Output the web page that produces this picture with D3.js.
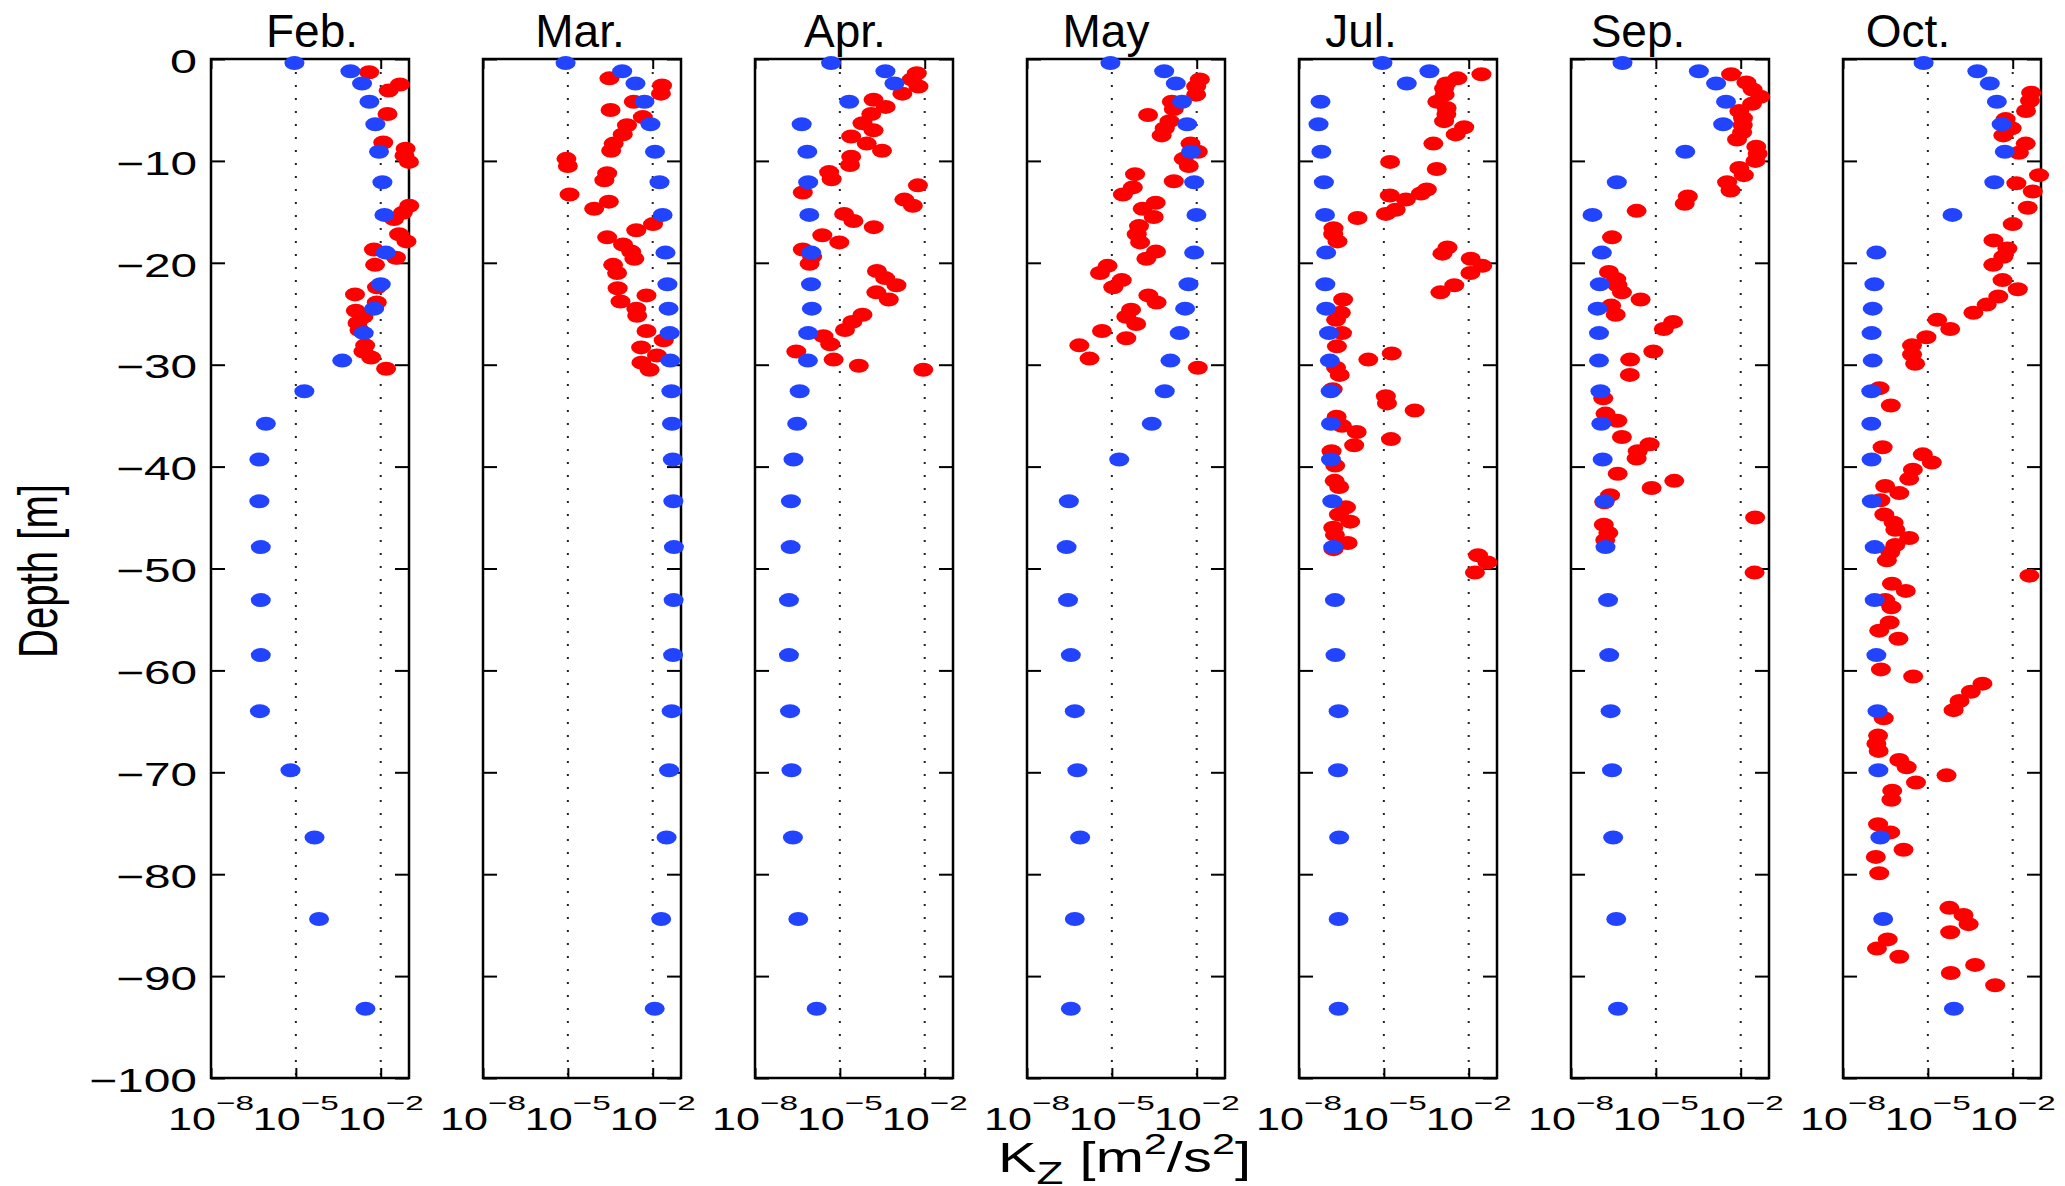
<!DOCTYPE html>
<html>
<head>
<meta charset="utf-8">
<script src="https://cdn.jsdelivr.net/npm/d3@7/dist/d3.min.js"></script>
<style>
  body { margin: 0; background: #fff; }
  text { font-family: "Liberation Sans", Arial, Helvetica, sans-serif; fill: #000; }
</style>
</head>
<body>
<div id="chart-area"></div>
<script>
// panel titles
var months = ["Feb.", "Mar.", "Apr.", "May", "Jul.", "Sep.", "Oct."];

// model depth levels [m], the same for every month
var modelDepth = [-0.4, -1.2, -2.4, -4.2, -6.4, -9.1, -12.1, -15.3, -19.0, -22.1, -24.5, -26.9,
  -29.6, -32.6, -35.8, -39.3, -43.4, -47.9, -53.1, -58.5, -64.0, -69.8, -76.4, -84.4, -93.2];

// model log10(Kz) at those levels (blue)
var modelFeb = [-5.05, -3.07, -2.66, -2.40, -2.19, -2.06, -1.94, -1.87, -1.82, -2.00, -2.23, -2.60,
  -3.36, -4.70, -6.06, -6.29, -6.29, -6.24, -6.24, -6.24, -6.27, -5.19, -4.34, -4.18, -2.54];
var modelMar = [-5.08, -3.08, -2.61, -2.29, -2.08, -1.92, -1.76, -1.65, -1.55, -1.48, -1.44, -1.40,
  -1.38, -1.34, -1.32, -1.29, -1.27, -1.25, -1.26, -1.28, -1.33, -1.42, -1.51, -1.70, -1.93];
var modelApr = [-5.31, -3.39, -3.07, -4.67, -6.35, -6.15, -6.12, -6.08, -6.01, -6.02, -5.99, -6.12,
  -6.13, -6.42, -6.51, -6.64, -6.73, -6.74, -6.80, -6.80, -6.76, -6.71, -6.66, -6.47, -5.82];
var modelMay = [-5.05, -3.15, -2.74, -2.52, -2.34, -2.20, -2.09, -2.01, -2.09, -2.29, -2.41, -2.60,
  -2.93, -3.13, -3.59, -4.74, -6.52, -6.60, -6.55, -6.45, -6.31, -6.22, -6.12, -6.31, -6.45];
var modelJul = [-5.05, -3.39, -4.19, -7.24, -7.31, -7.21, -7.12, -7.08, -7.04, -7.07, -7.04, -6.94,
  -6.91, -6.88, -6.87, -6.87, -6.82, -6.79, -6.73, -6.71, -6.60, -6.62, -6.58, -6.60, -6.60];
var modelSep = [-6.18, -3.48, -2.87, -2.52, -2.62, -3.96, -6.38, -7.24, -6.91, -6.98, -7.06, -7.01,
  -7.01, -6.96, -6.93, -6.88, -6.81, -6.78, -6.69, -6.65, -6.60, -6.55, -6.51, -6.40, -6.34];
var modelOct = [-5.15, -3.25, -2.81, -2.56, -2.39, -2.28, -2.65, -4.13, -6.82, -6.89, -6.95, -6.99,
  -6.95, -7.00, -7.00, -6.99, -6.98, -6.88, -6.88, -6.82, -6.78, -6.75, -6.68, -6.58, -4.08];

// observed [depth, log10(Kz)] (red)
var obsFeb = [[-1.3, -2.41], [-2.5, -1.32], [-3.1, -1.72], [-5.4, -1.76], [-8.2, -1.91], [-8.8, -1.12],
  [-9.5, -1.16], [-10.1, -1.00], [-14.4, -0.99], [-15.1, -1.22], [-15.7, -1.53], [-17.2, -1.35],
  [-17.9, -1.09], [-18.7, -2.24], [-19.5, -1.46], [-20.2, -2.20], [-22.4, -2.13], [-23.1, -2.91],
  [-23.9, -2.14], [-24.7, -2.88], [-25.3, -2.61], [-25.9, -2.82], [-26.6, -2.75], [-28.1, -2.55],
  [-28.7, -2.61], [-29.3, -2.34], [-30.4, -1.81]];
var obsMar = [[-1.9, -3.53], [-2.6, -1.67], [-3.4, -1.71], [-4.2, -2.67], [-5.0, -3.49], [-5.7, -2.35],
  [-6.5, -2.91], [-7.4, -3.06], [-8.3, -3.38], [-9.0, -3.47], [-9.8, -5.05], [-10.5, -5.00],
  [-11.2, -3.61], [-11.9, -3.71], [-13.3, -4.94], [-14.0, -3.55], [-14.7, -4.07], [-16.2, -1.99],
  [-16.8, -2.58], [-17.5, -3.61], [-18.2, -3.05], [-18.9, -2.76], [-19.6, -2.65], [-20.2, -3.40],
  [-21.0, -3.26], [-22.5, -3.24], [-23.2, -2.22], [-23.8, -3.14], [-24.5, -2.58], [-25.2, -2.55],
  [-26.7, -2.22], [-27.6, -1.61], [-28.3, -2.41], [-29.1, -1.85], [-29.8, -2.40], [-30.5, -2.11]];
var obsApr = [[-1.4, -2.28], [-2.0, -2.46], [-2.7, -2.22], [-3.4, -2.79], [-4.0, -3.81], [-4.7, -3.38],
  [-5.4, -3.89], [-6.3, -4.20], [-7.0, -3.81], [-7.6, -4.60], [-8.3, -4.05], [-9.0, -3.51],
  [-9.6, -4.60], [-10.4, -4.64], [-11.1, -5.38], [-11.8, -5.29], [-12.4, -2.24], [-13.1, -6.31],
  [-13.8, -2.72], [-14.4, -2.42], [-15.2, -4.85], [-15.9, -4.52], [-16.5, -3.80], [-17.3, -5.62],
  [-18.0, -5.02], [-18.7, -6.31], [-19.4, -5.98], [-20.1, -6.07], [-20.8, -3.69], [-21.5, -3.40],
  [-22.2, -3.00], [-22.9, -3.71], [-23.6, -3.27], [-25.1, -4.20], [-25.8, -4.56], [-26.6, -4.82],
  [-27.2, -5.58], [-28.0, -5.34], [-28.7, -6.54], [-29.5, -5.22], [-30.1, -4.33], [-30.5, -2.05]];
var obsMay = [[-2.0, -1.89], [-2.7, -2.02], [-3.5, -2.02], [-4.2, -2.88], [-4.9, -2.81], [-5.5, -3.72],
  [-6.1, -2.96], [-6.8, -3.13], [-7.5, -3.24], [-8.3, -2.22], [-9.1, -1.96], [-9.8, -2.46],
  [-10.5, -2.28], [-11.3, -4.18], [-12.0, -2.81], [-12.6, -4.26], [-13.3, -4.61], [-14.1, -3.45],
  [-14.7, -3.91], [-15.5, -3.52], [-16.4, -4.04], [-17.2, -4.12], [-18.0, -4.00], [-18.9, -3.44],
  [-19.6, -3.78], [-20.3, -5.15], [-21.0, -5.42], [-21.7, -4.65], [-22.4, -4.95], [-23.2, -3.71],
  [-23.9, -3.42], [-24.6, -4.32], [-25.3, -4.49], [-26.0, -4.14], [-26.7, -5.35], [-27.4, -4.49],
  [-28.1, -6.15], [-29.4, -5.79], [-30.3, -1.96]];
var obsJul = [[-1.5, -1.55], [-1.9, -2.40], [-2.4, -2.79], [-2.9, -2.87], [-3.5, -2.85], [-4.2, -3.11],
  [-4.8, -2.78], [-5.4, -2.79], [-6.1, -2.87], [-6.7, -2.16], [-7.4, -2.46], [-8.3, -3.25],
  [-10.1, -4.78], [-10.8, -3.13], [-12.8, -3.48], [-13.2, -3.69], [-13.4, -4.79], [-13.8, -4.22],
  [-14.8, -4.58], [-15.2, -4.93], [-15.6, -5.93], [-16.6, -6.78], [-17.2, -6.79], [-17.9, -6.64],
  [-18.5, -2.75], [-19.1, -2.93], [-19.6, -1.93], [-20.3, -1.52], [-21.0, -1.94], [-22.2, -2.51],
  [-22.9, -3.00], [-23.6, -6.44], [-24.9, -6.52], [-25.6, -6.69], [-26.9, -6.48], [-28.2, -6.66],
  [-28.9, -4.72], [-29.5, -5.55], [-30.3, -6.69], [-31.0, -6.56], [-32.4, -6.81], [-33.1, -4.93],
  [-33.8, -4.89], [-34.5, -3.91], [-35.1, -6.67], [-36.0, -6.48], [-36.6, -5.96], [-37.3, -4.75],
  [-37.9, -6.05], [-38.5, -6.85], [-39.9, -6.72], [-41.4, -6.74], [-42.0, -6.58], [-44.0, -6.34],
  [-44.7, -6.59], [-45.4, -6.19], [-46.0, -6.79], [-46.7, -6.73], [-47.5, -6.28], [-48.1, -6.78],
  [-48.7, -1.67], [-49.4, -1.34], [-50.4, -1.78]];
var obsSep = [[-1.5, -2.34], [-2.3, -1.80], [-3.0, -1.58], [-3.7, -1.31], [-4.4, -1.60], [-5.1, -2.05],
  [-5.8, -1.92], [-6.5, -1.93], [-7.2, -1.95], [-7.9, -2.13], [-8.6, -1.45], [-9.3, -1.40],
  [-10.0, -1.48], [-10.7, -2.05], [-11.4, -1.89], [-12.1, -2.48], [-12.9, -2.36], [-13.5, -3.87],
  [-14.2, -3.98], [-14.9, -5.68], [-17.5, -6.55], [-20.9, -6.66], [-21.6, -6.40], [-22.2, -6.36],
  [-22.9, -6.20], [-23.6, -5.54], [-24.2, -6.58], [-25.1, -6.42], [-25.8, -4.39], [-26.5, -4.72],
  [-28.7, -5.09], [-29.5, -5.91], [-31.0, -5.92], [-33.3, -6.86], [-34.8, -6.78], [-35.5, -6.36],
  [-37.1, -6.20], [-37.8, -5.22], [-38.5, -5.64], [-39.2, -5.68], [-40.7, -6.35], [-41.4, -4.35],
  [-42.1, -5.15], [-42.8, -6.62], [-43.5, -6.82], [-45.0, -1.49], [-45.7, -6.84], [-46.5, -6.68],
  [-47.2, -6.79], [-50.4, -1.51]];
var obsOct = [[-3.3, -1.35], [-4.1, -1.39], [-5.1, -1.53], [-5.9, -2.25], [-6.8, -2.04], [-7.5, -2.33],
  [-8.3, -1.54], [-9.2, -1.78], [-11.4, -1.07], [-12.2, -1.87], [-13.0, -1.29], [-14.6, -1.47],
  [-16.2, -2.00], [-17.8, -2.68], [-18.6, -2.19], [-19.4, -2.33], [-20.2, -2.69], [-21.7, -2.36],
  [-22.6, -1.82], [-23.3, -2.51], [-24.1, -2.92], [-24.9, -3.39], [-25.6, -4.67], [-26.5, -4.21],
  [-27.3, -5.05], [-28.1, -5.56], [-29.0, -5.56], [-29.9, -5.45], [-32.3, -6.71], [-34.0, -6.31],
  [-38.1, -6.60], [-38.8, -5.18], [-39.6, -4.86], [-40.3, -5.53], [-41.2, -5.66], [-41.9, -6.51],
  [-42.6, -6.01], [-43.3, -6.68], [-44.7, -6.54], [-45.5, -6.21], [-46.2, -6.15], [-47.0, -5.66],
  [-47.7, -6.15], [-48.4, -6.33], [-49.2, -6.45], [-50.7, -1.41], [-51.5, -6.27], [-52.2, -5.78],
  [-53.1, -6.51], [-53.8, -6.29], [-55.3, -6.35], [-56.1, -6.72], [-56.9, -6.04], [-59.9, -6.66],
  [-60.6, -5.52], [-61.3, -3.07], [-62.1, -3.48], [-63.0, -3.88], [-63.9, -4.09], [-64.7, -6.56],
  [-66.4, -6.76], [-67.2, -6.82], [-67.9, -6.74], [-68.8, -6.01], [-69.5, -5.75], [-70.3, -4.34],
  [-71.0, -5.42], [-71.8, -6.26], [-72.7, -6.29], [-75.1, -6.76], [-75.9, -6.33], [-77.6, -5.86],
  [-78.3, -6.84], [-79.9, -6.72], [-83.3, -4.24], [-84.0, -3.74], [-84.9, -3.56], [-85.7, -4.21],
  [-86.4, -6.42], [-87.3, -6.80], [-88.1, -6.01], [-88.9, -3.33], [-89.7, -4.19], [-90.9, -2.62]];

// axis ticks
var depthTicks = d3.range(-100, 1, 10);
var kzTickExp = [-8, -5, -2];

var model = [modelFeb, modelMar, modelApr, modelMay, modelJul, modelSep, modelOct];
var obs = [obsFeb, obsMar, obsApr, obsMay, obsJul, obsSep, obsOct];

// layout
var W = 2065, H = 1186;
var left0 = 211, step = 272, pw = 198, panelTop = 59, ph = 1019;
var titleX = [101, 97, 90, 79, 62, 67, 65];   // title centre, from panel left

var blue = "#2244ff", red = "#ff0000";

var svg = d3.select("#chart-area").append("svg")
  .attr("width", W)
  .attr("height", H);

var x = d3.scaleLog().domain([1e-8, 1e-1]).range([0, pw]);
var y = d3.scaleLinear().domain([-100, 0]).range([ph, 0]);

var minus = (d) => d < 0 ? "\u2212" + Math.abs(d) : "" + d;

months.forEach((m, i) => {
  var g = svg.append("g")
    .attr("transform", `translate(${left0 + i * step}, ${panelTop})`);

  // dotted grid at 1e-5, 1e-2
  g.selectAll(".grid")
    .data([1e-5, 1e-2])
    .enter().append("line")
    .attr("x1", d => x(d)).attr("x2", d => x(d))
    .attr("y1", 0).attr("y2", ph)
    .attr("stroke", "#222")
    .attr("stroke-width", 2)
    .attr("stroke-dasharray", "2,11");

  var yl = d3.axisLeft(y).tickValues(depthTicks)
    .tickSizeInner(-14).tickSizeOuter(0).tickPadding(14)
    .tickFormat(i == 0 ? minus : () => "");
  var yLeft = g.append("g").call(yl);

  var yRight = g.append("g")
    .attr("transform", `translate(${pw}, 0)`)
    .call(d3.axisRight(y).tickValues(depthTicks).tickSizeInner(-14).tickSizeOuter(0).tickFormat(() => ""));

  var xb = g.append("g")
    .attr("transform", `translate(0, ${ph})`)
    .call(d3.axisBottom(x).tickValues(kzTickExp.map(e => Math.pow(10, e)))
      .tickSizeInner(-10).tickSizeOuter(0).tickFormat(() => ""));
  var xt = g.append("g")
    .call(d3.axisTop(x).tickValues(kzTickExp.map(e => Math.pow(10, e)))
      .tickSizeInner(-10).tickSizeOuter(0).tickFormat(() => ""));

  [yLeft, yRight, xb, xt].forEach(a => {
    a.select(".domain").remove();
    a.selectAll(".tick line").attr("stroke", "#000").attr("stroke-width", 2);
  });

  yLeft.selectAll(".tick text")
    .attr("font-size", 33)
    .attr("dy", "0.4em")
    .attr("font-family", "Liberation Sans, Arial, sans-serif")
    .attr("fill", "#000")
    .attr("textLength", function () { return this.textContent.length * 27; })
    .attr("lengthAdjust", "spacingAndGlyphs");

  // frame
  g.append("rect")
    .attr("width", pw).attr("height", ph)
    .attr("fill", "none")
    .attr("stroke", "#000")
    .attr("stroke-width", 2.5);

  // 10^n labels
  kzTickExp.forEach(e => {
    var tx = x(Math.pow(10, e));
    g.append("text")
      .attr("x", tx - 43).attr("y", ph + 52)
      .attr("font-size", 32)
      .attr("textLength", 48).attr("lengthAdjust", "spacingAndGlyphs")
      .text("10");
    g.append("text")
      .attr("x", tx + 5).attr("y", ph + 32)
      .attr("font-size", 21)
      .attr("textLength", 38).attr("lengthAdjust", "spacingAndGlyphs")
      .text(minus(e));
  });

  // observations (red), then model (blue) on top
  g.selectAll(".obs")
    .data(obs[i])
    .enter().append("ellipse")
    .attr("class", "obs")
    .attr("cx", d => x(Math.pow(10, d[1])))
    .attr("cy", d => y(d[0]))
    .attr("rx", 10).attr("ry", 7)
    .attr("fill", red);

  g.selectAll(".mod")
    .data(model[i].map((v, k) => [modelDepth[k], v]))
    .enter().append("ellipse")
    .attr("class", "mod")
    .attr("cx", d => x(Math.pow(10, d[1])))
    .attr("cy", d => y(d[0]))
    .attr("rx", 10).attr("ry", 7)
    .attr("fill", blue);

  svg.append("text")
    .attr("x", left0 + i * step + titleX[i])
    .attr("y", 47)
    .attr("text-anchor", "middle")
    .attr("font-size", 46)
    .text(m);
});

// y label
svg.append("text")
  .attr("transform", "translate(57, 571) rotate(-90)")
  .attr("text-anchor", "middle")
  .attr("font-size", 56)
  .attr("textLength", 174).attr("lengthAdjust", "spacingAndGlyphs")
  .text("Depth [m]");

// x label K_Z [m^2/s^2]
var xl = svg.append("text")
  .attr("x", 998).attr("y", 1172)
  .attr("font-size", 42);
xl.append("tspan").text("K");
xl.append("tspan").attr("font-size", 32).attr("dy", 12).text("Z");
xl.append("tspan").attr("dy", -12).text(" [m");
xl.append("tspan").attr("font-size", 30).attr("dy", -18).text("2");
xl.append("tspan").attr("dy", 18).text("/s");
xl.append("tspan").attr("font-size", 30).attr("dy", -18).text("2");
xl.append("tspan").attr("dy", 18).text("]");
var bw = xl.node().getComputedTextLength();
var sx = 253 / bw;
xl.attr("transform", `translate(998, 0) scale(${sx}, 1) translate(-998, 0)`);
</script>
</body>
</html>
